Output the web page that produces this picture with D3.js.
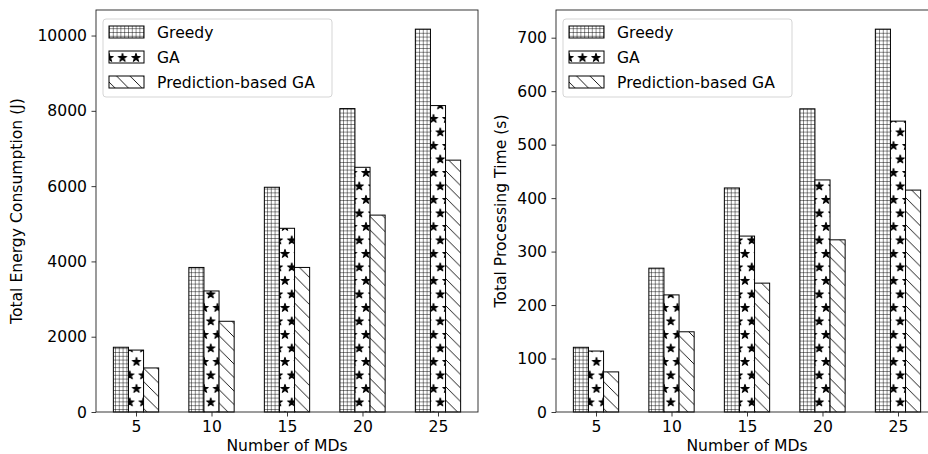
<!DOCTYPE html>
<html>
<head>
<meta charset="utf-8">
<script src="https://cdn.jsdelivr.net/npm/d3@7"></script>
<style>
  body { margin: 0; background: #fff; }
  text { font-family: "DejaVu Sans", sans-serif; fill: #000; }
</style>
</head>
<body>
<div id="wrapper"></div>
<script>
// values
const mds = [5, 10, 15, 20, 25];
const seriesNames = ["Greedy", "GA", "Prediction-based GA"];

const greedyEnergy = [1720, 3840, 5970, 8060, 10170];
const gaEnergy = [1645, 3215, 4880, 6500, 8140];
const predEnergy = [1170, 2410, 3840, 5230, 6690];

const greedyTime = [121, 269, 419, 567, 716];
const gaTime = [114, 219, 329, 434, 544];
const predTime = [75, 150, 241, 322, 415];

const energyTicks = [0, 2000, 4000, 6000, 8000, 10000];
const timeTicks = [0, 100, 200, 300, 400, 500, 600, 700];

function build() {
  const dimension = {
    width: 928,
    height: 454,
    panelWidth: 382,
    top: 10,
    bottom: 412,
  };
  const fontSize = 15.6;

  const wrapper = d3.select("#wrapper")
    .append("svg")
    .attr("width", dimension.width)
    .attr("height", dimension.height);

  // hatch patterns
  const defs = wrapper.append("defs");

  const g = 3.8;
  const grid = defs.append("pattern")
    .attr("id", "hatch-grid")
    .attr("patternUnits", "userSpaceOnUse")
    .attr("width", g).attr("height", g);
  grid.append("rect").attr("width", g).attr("height", g).attr("fill", "#fff");
  grid.append("path")
    .attr("d", `M0,0 L${g},0 M0,0 L0,${g}`)
    .attr("stroke", "#000").attr("stroke-width", 0.9);

  const sp = 13.5;
  const stars = defs.append("pattern")
    .attr("id", "hatch-star")
    .attr("patternUnits", "userSpaceOnUse")
    .attr("width", sp).attr("height", sp * 2);
  stars.append("rect").attr("width", sp).attr("height", sp * 2).attr("fill", "#fff");
  const starPath = d3.symbol(d3.symbolStar, 22)();
  [[0, 0], [sp, 0], [0, sp * 2], [sp, sp * 2], [sp / 2, sp]].forEach(([cx, cy]) => {
    stars.append("path")
      .attr("d", starPath)
      .attr("transform", `translate(${cx},${cy + 0.8})`)
      .attr("fill", "#000")
      .attr("stroke", "#000")
      .attr("stroke-width", 1)
      .attr("stroke-linejoin", "round");
  });

  const diag = defs.append("pattern")
    .attr("id", "hatch-diag")
    .attr("patternUnits", "userSpaceOnUse")
    .attr("width", sp).attr("height", sp);
  diag.append("rect").attr("width", sp).attr("height", sp).attr("fill", "#fff");
  diag.append("path")
    .attr("d", `M-1,-1 L${sp + 1},${sp + 1} M${sp - 1},-1 L${sp + 1},1 M-1,${sp - 1} L1,${sp + 1}`)
    .attr("stroke", "#000").attr("stroke-width", 0.9);

  const fills = ["url(#hatch-grid)", "url(#hatch-star)", "url(#hatch-diag)"];
  const offsets = [-1, 0, 1];

  const panels = [
    { left: 96, series: [greedyEnergy, gaEnergy, predEnergy], ticks: energyTicks,
      label: "Total Energy Consumption (J)", labelX: 22 },
    { left: 556, series: [greedyTime, gaTime, predTime], ticks: timeTicks,
      label: "Total Processing Time (s)", labelX: 506 },
  ];

  panels.forEach((p) => {
    const h = dimension.bottom - dimension.top;
    const x = d3.scaleLinear()
      .domain([2.35, 27.65])
      .range([0, dimension.panelWidth]);
    const yMax = d3.max(p.series.flat()) * 1.05;
    const y = d3.scaleLinear()
      .domain([0, yMax])
      .range([h, 0]);

    const bounds = wrapper.append("g")
      .attr("transform", `translate(${p.left},${dimension.top})`);

    // bars
    p.series.forEach((values, s) => {
      bounds.append("g")
        .selectAll("rect")
        .data(values)
        .enter()
        .append("rect")
        .attr("x", (d, i) => x(mds[i] + offsets[s] - 0.5))
        .attr("width", (d, i) => x(mds[i] + offsets[s] + 0.5) - x(mds[i] + offsets[s] - 0.5))
        .attr("y", (d) => y(d))
        .attr("height", (d) => h - y(d))
        .attr("fill", fills[s])
        .attr("stroke", "#000")
        .attr("stroke-width", 1);
    });

    // frame
    bounds.append("rect")
      .attr("width", dimension.panelWidth)
      .attr("height", h)
      .attr("fill", "none")
      .attr("stroke", "#222")
      .attr("stroke-width", 0.9);

    // axes
    const xAxis = bounds.append("g")
      .attr("transform", `translate(0,${h})`)
      .call(d3.axisBottom(x).tickValues(mds).tickSize(4.5).tickPadding(4.5));
    const yAxis = bounds.append("g")
      .call(d3.axisLeft(y).tickValues(p.ticks).tickFormat(d3.format("d")).tickSize(4.5).tickPadding(4.5));
    [xAxis, yAxis].forEach((a) => {
      a.select(".domain").remove();
      a.selectAll("line").attr("stroke", "#222").attr("stroke-width", 0.9);
      a.selectAll("text")
        .style("font-family", "DejaVu Sans")
        .style("font-size", fontSize + "px")
        .attr("fill", "#000");
    });

    bounds.append("text")
      .attr("x", dimension.panelWidth / 2)
      .attr("y", 451 - dimension.top)
      .attr("text-anchor", "middle")
      .style("font-size", fontSize + "px")
      .text("Number of MDs");

    wrapper.append("text")
      .attr("transform", `translate(${p.labelX},${(dimension.top + dimension.bottom) / 2}) rotate(-90)`)
      .attr("text-anchor", "middle")
      .style("font-size", fontSize + "px")
      .text(p.label);

    // legend
    const legend = bounds.append("g")
      .attr("transform", "translate(7,9)");
    legend.append("rect")
      .attr("width", 229)
      .attr("height", 78)
      .attr("rx", 3)
      .attr("fill", "#fff")
      .attr("fill-opacity", 0.8)
      .attr("stroke", "#d5d5d5")
      .attr("stroke-width", 1);
    const rows = legend.selectAll("g.row")
      .data(seriesNames)
      .enter()
      .append("g")
      .attr("class", "row")
      .attr("transform", (d, i) => `translate(6,${13 + i * 25})`);
    rows.append("rect")
      .attr("y", -6)
      .attr("width", 35)
      .attr("height", 12)
      .attr("fill", (d, i) => fills[i])
      .attr("stroke", "#000")
      .attr("stroke-width", 1);
    rows.append("text")
      .attr("x", 48)
      .attr("dy", "0.36em")
      .style("font-size", fontSize + "px")
      .text((d) => d);
  });
}

build();
</script>
</body>
</html>
